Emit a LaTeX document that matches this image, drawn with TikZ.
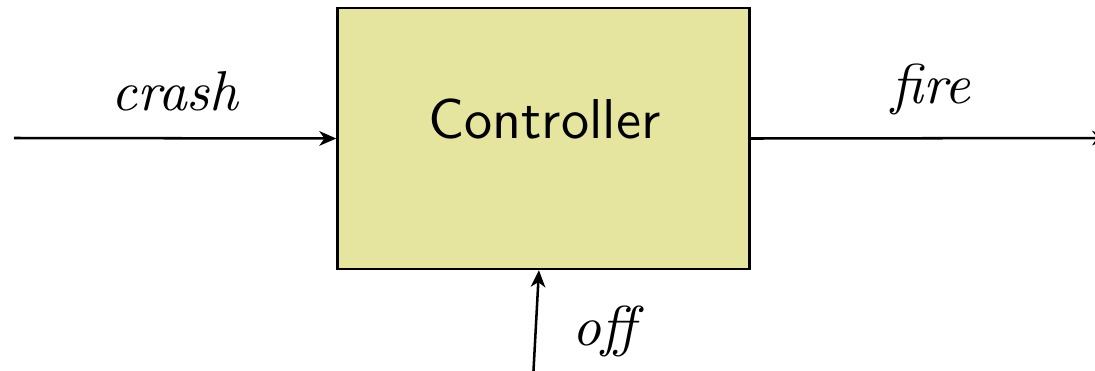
\documentclass[tikz,border=0pt]{standalone}
\usetikzlibrary{arrows.meta,calc}
\definecolor{boxfill}{RGB}{230,229,160}
\begin{document}
\begin{tikzpicture}[x=0.178pt,y=-0.178pt,
  box/.style={draw=black,line width=0.45pt,fill=boxfill,inner sep=0pt,minimum width=73.34pt,minimum height=46.46pt},
  arr/.style={line width=0.45pt,-{Stealth[length=3pt,width=2.6pt,inset=0.9pt]}},
  lab/.style={anchor=base,inner sep=0pt,font=\itshape}]
\useasboundingbox (0,0) rectangle (1095,371);
\node[box] (ctrl) at (543.5,138.5) {};
\node[anchor=base,inner sep=0pt,font=\sffamily] (ctrltext) at (544.5,138) {Controller};
\coordinate (inL) at (14,138);
\coordinate (outR) at (1109,138);
\coordinate (inB) at (533,380);
\coordinate (inBend) at ($(ctrl.south west)!0.489!(ctrl.south east)$);
\draw[arr] (inL) -- (ctrl.west);
\draw[arr] (ctrl.east) -- (outR);
\draw[arr] (inB) -- (inBend);
\node[lab] (crash) at (175,110) {crash};
\node[lab] (fire) at (931,103) {fire};
\node[lab] (off) at (604,345) {off};
\end{tikzpicture}
\end{document}
